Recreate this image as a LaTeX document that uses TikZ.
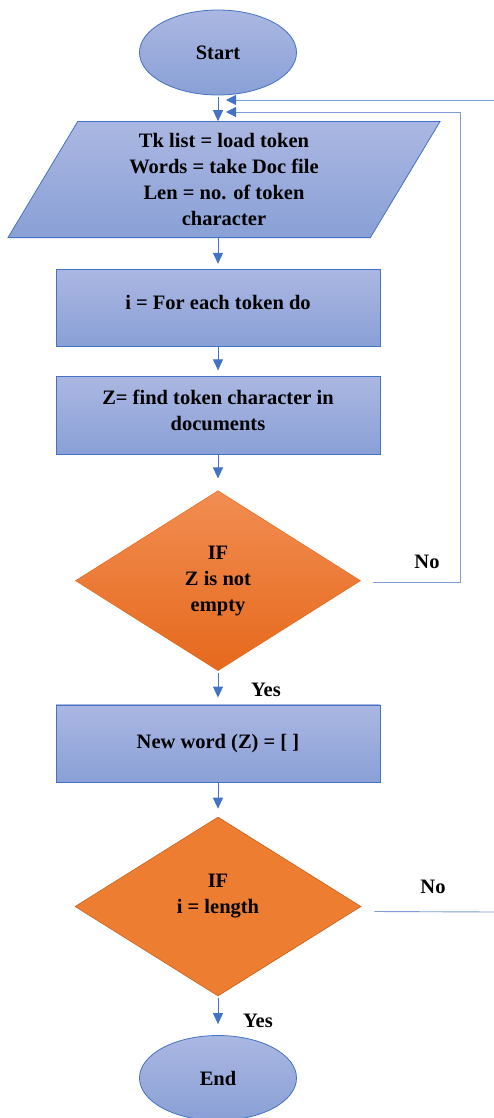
\documentclass[tikz,border=0pt]{standalone}
\usepackage{fontspec}
\setmainfont{Liberation Serif}
\usetikzlibrary{shapes.geometric,arrows.meta}
\definecolor{blueTop}{HTML}{ABB7E2}
\definecolor{blueBot}{HTML}{89A0D6}
\definecolor{edgeBlue}{HTML}{4472C4}
\definecolor{loopBlue}{HTML}{7E9CD6}
\definecolor{orTop}{HTML}{F28D52}
\definecolor{orBot}{HTML}{E5691C}
\definecolor{orMid}{HTML}{ED7D31}
\definecolor{orEdge}{HTML}{C8621E}
\tikzset{
  term/.style={ellipse, draw=edgeBlue, line width=0.8pt, top color=blueTop, bottom color=blueBot,
    minimum width=157pt, minimum height=85pt, inner sep=0pt},
  proc/.style={rectangle, draw=edgeBlue, line width=0.8pt, top color=blueTop, bottom color=blueBot,
    minimum width=324pt, minimum height=77.5pt, inner sep=0pt, align=center},
  io/.style={trapezium, trapezium left angle=53, trapezium right angle=127, trapezium stretches body,
    draw=edgeBlue, line width=0.8pt, top color=blueTop, bottom color=blueBot,
    minimum width=432pt, minimum height=116pt, inner sep=0pt, align=center},
  decA/.style={diamond, top color=orTop, bottom color=orBot, draw=orBot, line width=0.5pt,
    minimum width=285pt, minimum height=180pt, inner sep=0pt, align=center},
  decB/.style={diamond, fill=orMid, draw=orEdge, line width=0.6pt,
    minimum width=286pt, minimum height=179pt, inner sep=0pt, align=center},
  flow/.style={draw=edgeBlue, line width=0.9pt, -{Triangle[length=11pt,width=10pt]}},
  back/.style={draw=loopBlue, line width=0.9pt},
  backtip/.style={-{Triangle[length=10pt,width=10pt,color=edgeBlue]}},
  lbl/.style={inner sep=0pt, align=center}
}
\begin{document}
\begin{tikzpicture}[x=1pt,y=-1pt,font=\fontsize{20.5}{26}\selectfont\bfseries]
\useasboundingbox (0,0) rectangle (494,1118);
\fill[white] (0,0) rectangle (494,1118);
\clip (0,0) rectangle (494,1118);

\node[term] (start) at (218,52.5) {Start};
\node[io] (par) at (224,179.6) {Tk list = load token\\Words = take Doc file\\Len = no. of token\\character};
\node[proc] (r1) at (218,308) {};
\node[lbl] (r1t) at (218,302) {i = For each token do};
\node[proc] (r2) at (218,415.5) {};
\node[lbl] (r2t) at (218,410.5) {Z= find token character in\\documents};
\node[decA] (d1) at (218,580.7) {IF\\Z is not\\empty};
\node[proc] (r3) at (218,743.7) {New word (Z) = [ ]};
\node[decB] (d2) at (218,906.5) {IF\\i = length\\\mbox{}};
\node[term] (endn) at (218,1078) {End};

\node[lbl] (no1) at (427,562) {No};
\node[lbl] (yes1) at (266,690) {Yes};
\node[lbl] (no2) at (433,887) {No};
\node[lbl] (yes2) at (258,1021) {Yes};

\coordinate (inA) at (494,100);
\coordinate (tipA) at (226,100);
\coordinate (tipB) at (226,112);
\coordinate (cornB) at (460,112);
\coordinate (outC) at (494,912);

\draw[flow] ([yshift=-2pt]start.south) -- (start.south |- par.north);
\draw[flow, shorten >=5pt] (r1.north |- par.south) -- (r1.north);
\draw[flow, shorten >=6pt] (r1) -- (r2);
\draw[flow, shorten >=12pt] (r2) -- (d1);
\draw[flow, shorten <=2pt, shorten >=7pt] (d1) -- (r3);
\draw[flow, shorten >=8pt] (r3) -- (d2);
\draw[flow, shorten <=2pt, shorten >=11pt] (d2) -- (endn);

\draw[back, backtip] (inA) -- (tipA);
\draw[back, backtip] ([shift={(12,2)}]d1.east) -| (cornB) -- (tipB);
\draw[back] ([shift={(13,5)}]d2.east) -- (outC);
\end{tikzpicture}
\end{document}
